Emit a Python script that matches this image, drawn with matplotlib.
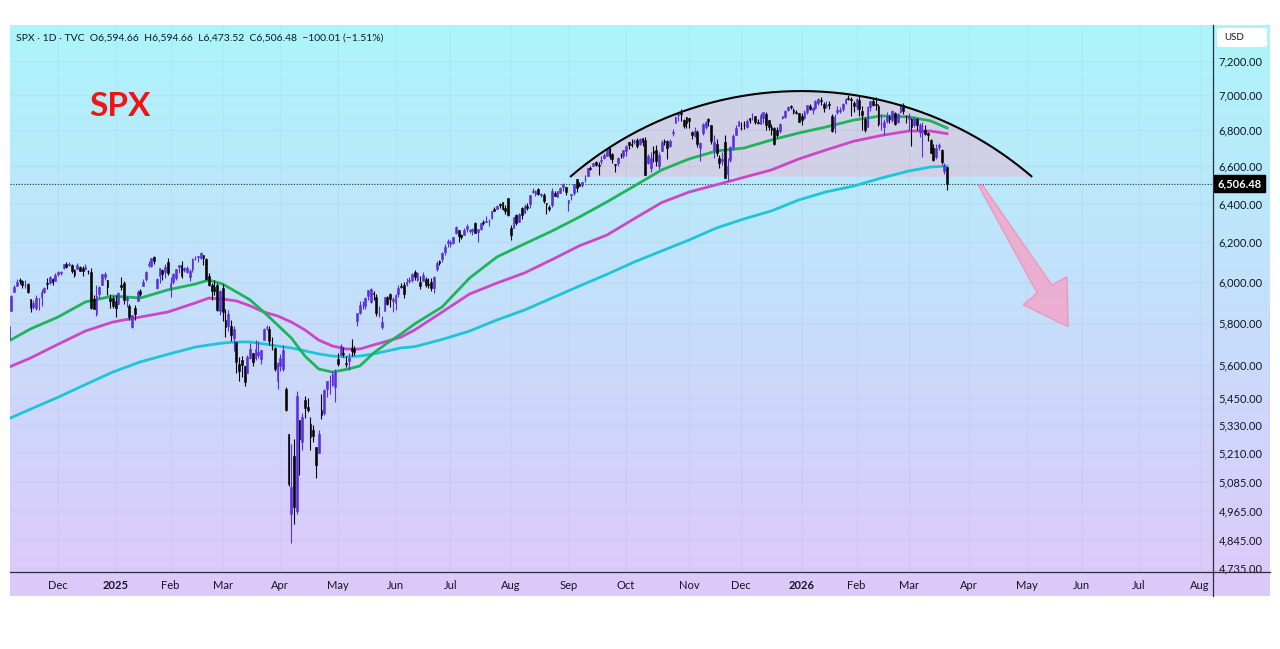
"""
SPX daily candles (Nov 2024 - Mar 2026) with 50/100/200-day moving averages,
a rounded-top arc drawn over the Sep 2025 - Mar 2026 range and a bearish arrow.
TradingView look: cyan-to-lavender card, price scale on the right.
"""
import numpy as np
import matplotlib
matplotlib.use("Agg")
import matplotlib.pyplot as plt
from matplotlib.patches import Polygon, FancyBboxPatch
from matplotlib.lines import Line2D
from matplotlib.ticker import FixedLocator, NullLocator, NullFormatter

plt.rcParams["font.family"] = ["Lato", "DejaVu Sans"]

# ---------------------------------------------------------------- data
# trading-day index: 0 = 2 Dec 2024, first candle = 1 Nov 2024
FIRST_BAR = -20

OPEN = [
    # Nov 2024
    5724, 5725, 5722, 5857, 5947, 5976, 6008, 6003, 5985, 5990, 5912, 5874, 5871, 5917, 5922, 5947, 5992, 5992, 6015, 6004,
    # Dec 2024
    6040, 6042, 6069, 6089, 6081, 6083, 6057, 6061, 6074, 6068, 6064, 6052, 6048, 5913, 5843, 5941, 5985, 6024, 6007, 5921, 5920,
    # Jan 2025
    5903, 5892, 5982, 5994, 5911, 5882, 5781, 5869, 5905, 5954, 5976, 6015, 6081, 6076, 6121, 5969, 6026, 6058, 6050, 6097,
    # Feb 2025
    5969, 5998, 6020, 6072, 6083, 6060, 6049, 6025, 6061, 6115, 6121, 6118, 6134, 6115, 6027, 5982, 5971, 5981, 5857,
    # Mar 2025
    5969, 5812, 5782, 5785, 5726, 5706, 5604, 5624, 5594, 5563, 5635, 5655, 5632, 5646, 5630, 5718, 5772, 5771, 5696, 5679, 5528,
    # Apr 2025
    5597, 5580, 5492, 5292, 4953, 5193, 4965, 5353, 5255, 5441, 5411, 5335, 5306, 5232, 5207, 5395, 5381, 5489, 5529, 5508, 5500,
    # May 2025
    5626, 5645, 5655, 5609, 5617, 5680, 5673, 5808, 5845, 5891, 5879, 5929, 5902, 5944, 5924, 5841, 5781, 5855, 5925, 5939, 5903,
    # Jun 2025
    5897, 5938, 5979, 5985, 5987, 6005, 6009, 6050, 6010, 6000, 6005, 6012, 5987, 5999, 5970, 6061, 6104, 6112, 6151, 6194,
    # Jul 2025
    6188, 6193, 6244, 6259, 6237, 6237, 6264, 6256, 6255, 6297, 6250, 6264, 6305, 6304, 6307, 6326, 6369, 6371, 6397, 6409, 6376, 6428,
    # Aug 2025
    6271, 6272, 6337, 6305, 6375, 6351, 6389, 6398, 6461, 6453, 6478, 6445, 6447, 6404, 6383, 6390, 6457, 6435, 6457, 6487, 6487,
    # Sep 2025
    6401, 6445, 6457, 6529, 6498, 6500, 6532, 6548, 6588, 6603, 6622, 6608, 6629, 6645, 6655, 6698, 6668, 6610, 6616, 6662, 6658,
    # Oct 2025
    6685, 6731, 6722, 6736, 6746, 6723, 6758, 6744, 6617, 6588, 6682, 6687, 6603, 6685, 6737, 6741, 6712, 6782, 6840, 6884, 6895, 6857, 6873,
    # Nov 2025
    6867, 6791, 6767, 6791, 6701, 6785, 6820, 6864, 6827, 6687, 6722, 6647, 6627, 6731, 6560, 6633, 6705, 6775, 6822,
    # Dec 2025
    6813, 6830, 6815, 6866, 6867, 6878, 6847, 6835, 6866, 6889, 6855, 6815, 6811, 6800, 6794, 6866, 6875, 6915, 6936, 6912, 6903, 6894,
    # Jan 2026
    6878, 6870, 6905, 6938, 6915, 6928, 6955, 6972, 6950, 6935, 6950, 6880, 6810, 6900, 6910, 6920, 6955, 6982, 6975, 6955,
    # Feb 2026
    6930, 6970, 6910, 6860, 6820, 6930, 6968, 6950, 6938, 6835, 6815, 6850, 6875, 6855, 6895, 6845, 6900, 6945, 6880,
    # Mar 2026
    6860, 6860, 6830, 6860, 6790, 6790, 6800, 6785, 6745, 6700, 6650, 6705, 6690, 6575, 6594.66,
]
HIGH = [
    5772, 5741, 5783, 5933, 5983, 6013, 6018, 6010, 6009, 5993, 5915, 5909, 5932, 5920, 5964, 5975, 6020, 6026, 6020, 6044,
    6053, 6052, 6089, 6099, 6099, 6089, 6065, 6093, 6080, 6079, 6086, 6057, 6070, 5935, 5982, 5979, 6040, 6049, 6007, 5940, 5930,
    5935, 5950, 6022, 6001, 5928, 5892, 5837, 5884, 5960, 5965, 6015, 6052, 6101, 6119, 6128, 6018, 6069, 6063, 6087, 6120,
    6022, 6042, 6062, 6084, 6101, 6073, 6076, 6063, 6116, 6127, 6129, 6147, 6134, 6119, 6044, 5992, 6010, 5994, 5959,
    5987, 5866, 5861, 5812, 5783, 5706, 5636, 5642, 5598, 5645, 5704, 5655, 5716, 5711, 5670, 5775, 5787, 5784, 5733, 5686, 5615,
    5651, 5695, 5500, 5292, 5246, 5267, 5481, 5353, 5381, 5460, 5450, 5367, 5329, 5232, 5309, 5469, 5489, 5528, 5553, 5571, 5581,
    5658, 5700, 5684, 5643, 5655, 5721, 5691, 5848, 5906, 5907, 5924, 5959, 5969, 5953, 5939, 5878, 5830, 5922, 5930, 5943, 5923,
    5937, 5981, 5991, 5999, 6016, 6022, 6043, 6060, 6046, 6026, 6050, 6024, 6019, 6019, 6028, 6101, 6108, 6146, 6188, 6216,
    6211, 6227, 6284, 6263, 6243, 6270, 6290, 6266, 6272, 6302, 6267, 6299, 6315, 6336, 6316, 6360, 6381, 6390, 6401, 6409, 6393, 6428,
    6288, 6330, 6344, 6350, 6379, 6395, 6402, 6446, 6481, 6473, 6482, 6457, 6456, 6405, 6393, 6481, 6466, 6468, 6487, 6508, 6490,
    6416, 6453, 6502, 6533, 6513, 6513, 6555, 6592, 6600, 6619, 6627, 6624, 6656, 6671, 6698, 6699, 6670, 6612, 6650, 6670, 6689,
    6718, 6731, 6750, 6749, 6755, 6754, 6758, 6764, 6668, 6677, 6709, 6715, 6680, 6745, 6752, 6746, 6749, 6807, 6877, 6900, 6920, 6863, 6875,
    6870, 6796, 6819, 6798, 6731, 6841, 6851, 6869, 6829, 6775, 6748, 6659, 6679, 6770, 6644, 6713, 6776, 6828, 6853,
    6843, 6851, 6862, 6867, 6895, 6880, 6864, 6899, 6904, 6902, 6855, 6834, 6819, 6818, 6838, 6881, 6913, 6937, 6945, 6924, 6913, 6898,
    6895, 6912, 6945, 6950, 6930, 6972, 6985, 6987, 6962, 6968, 6965, 6890, 6890, 6935, 6930, 6952, 6985, 7002, 6990, 6965,
    6985, 6995, 6935, 6875, 6935, 6968, 6985, 6990, 6950, 6890, 6860, 6900, 6885, 6915, 6900, 6895, 6945, 6955, 6885,
    6895, 6870, 6875, 6870, 6840, 6845, 6830, 6790, 6750, 6720, 6720, 6730, 6695, 6620, 6594.66,
]
LOW = [
    5724, 5696, 5722, 5857, 5947, 5976, 5986, 5966, 5969, 5942, 5853, 5865, 5860, 5860, 5878, 5942, 5964, 5987, 5984, 6003,
    6026, 6033, 6062, 6070, 6079, 6041, 6024, 6061, 6051, 6030, 6059, 6036, 5867, 5866, 5832, 5921, 5983, 6007, 5932, 5869, 5869,
    5829, 5888, 5960, 5891, 5875, 5811, 5773, 5812, 5905, 5931, 5976, 6004, 6075, 6074, 6089, 5963, 5994, 6008, 6017, 6031,
    5923, 5990, 6007, 6045, 6020, 6048, 6042, 6003, 6050, 6107, 6100, 6111, 6085, 6008, 5978, 5909, 5933, 5858, 5837,
    5810, 5733, 5762, 5711, 5667, 5565, 5529, 5547, 5505, 5563, 5628, 5598, 5622, 5633, 5603, 5718, 5764, 5695, 5671, 5572, 5489,
    5573, 5571, 5390, 5069, 4835, 4910, 4950, 5115, 5220, 5359, 5387, 5220, 5256, 5102, 5207, 5356, 5372, 5456, 5468, 5505, 5434,
    5597, 5645, 5637, 5590, 5579, 5640, 5646, 5786, 5843, 5868, 5868, 5909, 5896, 5910, 5830, 5826, 5768, 5854, 5884, 5875, 5849,
    5861, 5922, 5966, 5921, 5978, 5994, 6000, 6008, 6003, 5963, 6005, 5974, 5966, 5952, 5943, 6053, 6081, 6099, 6133, 6173,
    6175, 6191, 6240, 6201, 6215, 6237, 6251, 6245, 6236, 6244, 6201, 6260, 6285, 6303, 6281, 6318, 6360, 6369, 6376, 6365, 6343, 6332,
    6212, 6272, 6289, 6302, 6316, 6350, 6365, 6375, 6454, 6441, 6446, 6434, 6401, 6344, 6360, 6381, 6438, 6435, 6456, 6467, 6444,
    6360, 6417, 6444, 6460, 6492, 6487, 6513, 6546, 6579, 6603, 6600, 6551, 6612, 6640, 6655, 6637, 6618, 6569, 6602, 6645, 6647,
    6656, 6697, 6705, 6723, 6700, 6718, 6711, 6550, 6611, 6570, 6624, 6601, 6587, 6684, 6718, 6642, 6705, 6766, 6839, 6852, 6854, 6812, 6814,
    6811, 6753, 6760, 6707, 6631, 6775, 6808, 6822, 6723, 6647, 6654, 6589, 6606, 6534, 6521, 6625, 6687, 6773, 6822,
    6800, 6806, 6810, 6841, 6858, 6836, 6832, 6833, 6842, 6801, 6803, 6775, 6719, 6763, 6782, 6861, 6867, 6911, 6921, 6893, 6893, 6845,
    6827, 6860, 6890, 6915, 6890, 6920, 6945, 6940, 6900, 6925, 6920, 6790, 6785, 6890, 6895, 6910, 6950, 6970, 6880, 6905,
    6915, 6880, 6800, 6790, 6815, 6910, 6935, 6915, 6825, 6800, 6775, 6840, 6840, 6845, 6830, 6840, 6895, 6890, 6840,
    6800, 6710, 6815, 6800, 6760, 6650, 6770, 6740, 6670, 6630, 6640, 6690, 6610, 6560, 6473.52,
]
CLOSE = [
    5729, 5713, 5782, 5929, 5973, 5996, 6001, 5984, 5985, 5949, 5870, 5894, 5917, 5917, 5949, 5969, 5987, 6021, 5999, 6032,
    6047, 6050, 6087, 6075, 6090, 6053, 6034, 6084, 6051, 6051, 6074, 6051, 5872, 5867, 5931, 5975, 6040, 6037, 5971, 5907, 5882,
    5869, 5942, 5975, 5909, 5918, 5827, 5836, 5843, 5950, 5937, 5997, 6049, 6086, 6119, 6101, 6012, 6068, 6039, 6071, 6041,
    5994, 6037, 6061, 6084, 6026, 6066, 6069, 6052, 6115, 6115, 6129, 6144, 6118, 6013, 5983, 5955, 5956, 5861, 5955,
    5850, 5778, 5843, 5739, 5770, 5615, 5573, 5599, 5522, 5639, 5675, 5615, 5676, 5663, 5668, 5768, 5777, 5712, 5693, 5581, 5612,
    5633, 5671, 5397, 5074, 5062, 4982, 5457, 5268, 5363, 5406, 5397, 5276, 5283, 5158, 5288, 5376, 5485, 5525, 5529, 5561, 5569,
    5604, 5687, 5650, 5607, 5631, 5664, 5660, 5844, 5886, 5892, 5917, 5958, 5964, 5940, 5845, 5842, 5802, 5922, 5889, 5912, 5912,
    5936, 5970, 5971, 5939, 6000, 6006, 6039, 6022, 6045, 5977, 6033, 5982, 5981, 5968, 6025, 6092, 6092, 6141, 6173, 6205,
    6198, 6227, 6279, 6230, 6226, 6263, 6280, 6260, 6269, 6244, 6264, 6297, 6297, 6306, 6309, 6359, 6363, 6389, 6390, 6371, 6362, 6339,
    6238, 6330, 6299, 6345, 6340, 6389, 6374, 6446, 6466, 6469, 6450, 6449, 6411, 6396, 6370, 6467, 6439, 6466, 6481, 6502, 6460,
    6416, 6448, 6502, 6482, 6495, 6512, 6532, 6588, 6584, 6615, 6606, 6600, 6632, 6664, 6693, 6656, 6638, 6605, 6644, 6661, 6688,
    6711, 6715, 6716, 6740, 6714, 6753, 6735, 6553, 6654, 6644, 6671, 6630, 6664, 6735, 6735, 6699, 6738, 6792, 6875, 6891, 6890, 6822, 6840,
    6852, 6771, 6796, 6720, 6728, 6832, 6846, 6851, 6737, 6734, 6672, 6617, 6642, 6538, 6603, 6705, 6766, 6813, 6849,
    6812, 6829, 6850, 6857, 6870, 6846, 6840, 6887, 6901, 6827, 6816, 6800, 6721, 6775, 6835, 6878, 6910, 6932, 6930, 6905, 6896, 6845,
    6858, 6902, 6940, 6921, 6925, 6966, 6977, 6963, 6926, 6944, 6940, 6797, 6876, 6914, 6916, 6950, 6979, 6978, 6969, 6939,
    6976, 6918, 6883, 6798, 6932, 6964, 6941, 6941, 6833, 6836, 6843, 6881, 6861, 6909, 6837, 6890, 6946, 6908, 6878,
    6881, 6816, 6869, 6830, 6830, 6795, 6781, 6775, 6672, 6632, 6699, 6716, 6625, 6606.49, 6506.48,
]

# moving averages (bar index -> value)
MA_BARS = [-18, -10, 0, 10, 20, 30, 40, 50, 55, 60, 65, 70, 75, 80, 85, 90, 95, 100, 105, 110, 115, 120,
           125, 130, 140, 150, 160, 170, 180, 190, 200, 210, 220, 230, 240, 250, 260, 270, 280, 290, 300,
           310, 318, 324]
MA50 = [5712, 5770, 5827, 5900, 5929, 5919, 5959, 5988, 6008, 5988, 5949, 5910, 5851, 5789, 5727, 5642,
        5582, 5568, 5580, 5596, 5656, 5703, 5746, 5794, 5876, 6018, 6124, 6190, 6256, 6329, 6408, 6493,
        6580, 6640, 6684, 6700, 6745, 6784, 6818, 6857, 6880, 6875, 6852, 6812]
MA100 = [5590, 5633, 5697, 5760, 5803, 5827, 5851, 5895, 5919, 5914, 5905, 5881, 5851, 5832, 5803, 5765,
         5717, 5689, 5675, 5675, 5694, 5712, 5731, 5765, 5851, 5939, 5993, 6043, 6110, 6180, 6235, 6320,
         6405, 6461, 6500, 6540, 6580, 6640, 6690, 6738, 6770, 6795, 6795, 6780]
MA200 = [5357, 5400, 5453, 5511, 5568, 5615, 5650, 5684, 5694, 5703, 5708, 5708, 5699, 5689, 5680, 5666,
         5652, 5642, 5638, 5642, 5652, 5666, 5680, 5686, 5720, 5760, 5813, 5861, 5919, 5978, 6036, 6098,
         6154, 6210, 6272, 6319, 6361, 6419, 6462, 6493, 6536, 6574, 6596, 6601]

MONTH_BARS = [0, 21, 41, 60, 81, 102, 123, 143, 165, 186, 207, 230, 249, 271, 291, 310, 332, 353, 373, 394, 416]
MONTH_LABELS = ["Dec", "2025", "Feb", "Mar", "Apr", "May", "Jun", "Jul", "Aug", "Sep", "Oct", "Nov",
                "Dec", "2026", "Feb", "Mar", "Apr", "May", "Jun", "Jul", "Aug"]
YTICKS = [7200, 7000, 6800, 6600, 6400, 6200, 6000, 5800, 5600, 5450, 5330, 5210, 5085, 4965, 4845, 4735]

LAST_CLOSE = 6506.48
HEADER = "SPX \u00b7 1D \u00b7 TVC  O6,594.66  H6,594.66  L6,473.52  C6,506.48  \u2212100.01 (\u22121.51%)"

# drawings: arc (start, top, end) and the down arrow outline
ARC_BARS = [186.6, 270.8, 355.0]
ARC_PRICES = [6542, 7023, 6542]
ARROW_BARS = [335.3, 337.1, 362.2, 367.7, 368.1, 351.7, 356.8]
ARROW_PRICES = [6499, 6494, 5983, 6023, 5780, 5886, 5944]

# ---------------------------------------------------------------- style
UP, DOWN = "#5b2de0", "#000000"
C50, C100, C200 = "#1db45a", "#cc47c8", "#1cc6d8"
TXT = "#131722"
W, H = 1280, 649


def fx(px):
    return px / W


def fy(py):
    return 1 - py / H


fig = plt.figure(figsize=(W / 100, H / 100), dpi=100)
fig.patch.set_facecolor("white")

# gradient card behind everything
bg = fig.add_axes([fx(10), fy(596), fx(1270) - fx(10), fy(25) - fy(596)], zorder=-5)
t = np.linspace(0, 1, 256)[:, None, None]
top = np.array([172, 245, 251]) / 255
bot = np.array([222, 200, 250]) / 255
bg.imshow(top + (bot - top) * t, aspect="auto", extent=[0, 1, 0, 1])
bg.axis("off")

ax = fig.add_axes([fx(10), fy(572), fx(1213) - fx(10), fy(25) - fy(572)])
ax.set_facecolor("none")
ax.set_yscale("log")
ax.set_xlim(-17.5, 420.9)
ax.set_ylim(4720, 7417)
for s in ax.spines.values():
    s.set_visible(False)

ax.yaxis.set_major_locator(FixedLocator(YTICKS))
ax.yaxis.set_minor_locator(NullLocator())
ax.yaxis.set_minor_formatter(NullFormatter())
ax.set_yticklabels([f"{v:,.2f}" for v in YTICKS])
ax.yaxis.tick_right()
ax.tick_params(axis="y", length=0, pad=4, labelsize=8, labelcolor=TXT)

ax.set_xticks(MONTH_BARS)
ax.set_xticklabels(MONTH_LABELS)
for lab in ax.get_xticklabels():
    if lab.get_text().isdigit():
        lab.set_fontweight("bold")
ax.tick_params(axis="x", length=0, pad=6, labelsize=8, labelcolor=TXT)
ax.grid(True, color="#7f8fb0", alpha=0.08, lw=0.8)

# arc drawn as a circle in screen space through three anchors
pts = ax.transData.transform(np.column_stack([ARC_BARS, ARC_PRICES]))
(x1, y1), (x2, y2), (x3, y3) = pts
d = 2 * (x1 * (y2 - y3) + x2 * (y3 - y1) + x3 * (y1 - y2))
cx = ((x1**2 + y1**2) * (y2 - y3) + (x2**2 + y2**2) * (y3 - y1) + (x3**2 + y3**2) * (y1 - y2)) / d
cy = ((x1**2 + y1**2) * (x3 - x2) + (x2**2 + y2**2) * (x1 - x3) + (x3**2 + y3**2) * (x2 - x1)) / d
r = np.hypot(x1 - cx, y1 - cy)
a0, a1 = np.arctan2(y1 - cy, x1 - cx), np.arctan2(y3 - cy, x3 - cx)
th = np.linspace(a0, a1, 200)
arc = ax.transData.inverted().transform(np.column_stack([cx + r * np.cos(th), cy + r * np.sin(th)]))
ax.add_patch(Polygon(arc, closed=True, facecolor="#dcc6e0", alpha=0.7, edgecolor="none", zorder=1))
ax.plot(arc[:, 0], arc[:, 1], color="black", lw=1.5, zorder=8, solid_capstyle="butt")

# moving averages
for vals, col in ((MA200, C200), (MA100, C100), (MA50, C50)):
    ax.plot(MA_BARS, vals, color=col, lw=2.0, zorder=3, solid_joinstyle="round")

# candles
o, h, l, c = (np.array(a, dtype=float) for a in (OPEN, HIGH, LOW, CLOSE))
assert len(o) == len(h) == len(l) == len(c)
idx = np.arange(len(c)) + FIRST_BAR
cols = np.where(c >= o, UP, DOWN)
ax.vlines(idx, l, h, colors=cols, lw=0.8, zorder=4)
ax.bar(idx, np.abs(c - o), bottom=np.minimum(o, c), width=0.66, color=cols,
       edgecolor=cols, lw=0.4, zorder=5)

# last price line + label
ax.axhline(LAST_CLOSE, color="#333333", lw=0.8, ls=(0, (1, 1.5)), zorder=2)
ax.annotate(f"{LAST_CLOSE:,.2f}", xy=(1.0, LAST_CLOSE), xycoords=ax.get_yaxis_transform(),
            xytext=(3, 0), textcoords="offset points", ha="left", va="center",
            color="white", fontsize=8, fontweight="bold", annotation_clip=False, zorder=10,
            bbox=dict(boxstyle="square,pad=0.3", fc="black", ec="black"))

# bearish arrow
ax.add_patch(Polygon(np.column_stack([ARROW_BARS, ARROW_PRICES]), closed=True,
                     facecolor="#f5a3c6", edgecolor="#ee8fb8", lw=1.0, alpha=0.8, zorder=6))

# frame lines that run across the price scale / time scale
fig.add_artist(Line2D([fx(10), fx(1270)], [fy(572), fy(572)], color="#2a2e39", lw=0.9))
fig.add_artist(Line2D([fx(1213), fx(1213)], [fy(25), fy(596)], color="#2a2e39", lw=0.9))

# texts
fig.text(fx(16), fy(38), HEADER, fontsize=7.5, color=TXT, va="center", ha="left")
fig.text(fx(89), fy(106), "SPX", fontsize=24, color="#f01414", fontweight="bold", va="center", ha="left")
fig.add_artist(FancyBboxPatch((fx(1217), fy(47)), fx(1267) - fx(1217), fy(28) - fy(47),
                              boxstyle="round,pad=0,rounding_size=0.003", transform=fig.transFigure,
                              fc="white", ec="none"))
fig.text(fx(1224), fy(38), "USD", fontsize=7, color=TXT, va="center", ha="left")

fig.savefig("out.png", dpi=100)
